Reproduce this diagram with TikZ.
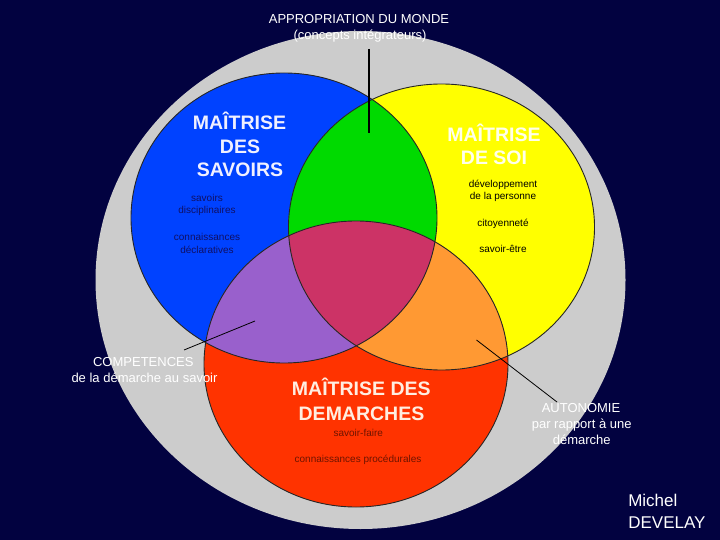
\documentclass[tikz,border=0pt]{standalone}
\usepackage{fontspec}
\setmainfont{Liberation Sans}
\definecolor{cnavy}{RGB}{2,2,64}
\definecolor{cgrey}{RGB}{204,204,204}
\definecolor{cblue}{RGB}{0,66,255}
\definecolor{cyellow}{RGB}{255,255,0}
\definecolor{cgreen}{RGB}{0,218,0}
\definecolor{cred}{RGB}{255,51,0}
\definecolor{cpurple}{RGB}{153,96,204}
\definecolor{cmag}{RGB}{204,51,102}
\definecolor{corange}{RGB}{255,153,51}
\definecolor{tblue}{RGB}{16,16,100}
\definecolor{tred}{RGB}{110,20,0}
\definecolor{wyel}{RGB}{255,255,235}
\definecolor{wred}{RGB}{255,238,225}
\definecolor{wblue}{RGB}{240,240,255}
\begin{document}
\begin{tikzpicture}[x=1pt,y=-1pt,
  txt/.style={anchor=base,inner sep=0pt,outer sep=0pt},
  wlabel/.style={txt,text=white,font=\fontsize{13}{15}\selectfont},
  title/.style={txt,font=\fontsize{19.5}{22}\selectfont\bfseries},
  small/.style={txt,font=\fontsize{10}{12}\selectfont},
  outline/.style={draw=black!85,line width=0.9pt},
  pointer/.style={draw=black,line width=0.8pt}]
\useasboundingbox (0,0) rectangle (720,540);
\fill[cnavy] (0,0) rectangle (720,540);
\coordinate (G) at (360.5,280);
\coordinate (B) at (284,218);
\coordinate (Y) at (441.5,227);
\coordinate (R) at (356,364);
% outer disc
\fill[cgrey] (G) ellipse [x radius=265pt, y radius=249pt];
% three sets
\fill[cblue] (B) ellipse [x radius=153pt, y radius=145pt];
\fill[cyellow] (Y) ellipse [x radius=153pt, y radius=143pt];
\fill[cred] (R) ellipse [x radius=152pt, y radius=143pt];
\begin{scope}
  \clip (B) ellipse [x radius=153pt, y radius=145pt];
  \fill[cgreen] (Y) ellipse [x radius=153pt, y radius=143pt];
\end{scope}
\begin{scope}
  \clip (B) ellipse [x radius=153pt, y radius=145pt];
  \fill[cpurple] (R) ellipse [x radius=152pt, y radius=143pt];
\end{scope}
\begin{scope}
  \clip (Y) ellipse [x radius=153pt, y radius=143pt];
  \fill[corange] (R) ellipse [x radius=152pt, y radius=143pt];
\end{scope}
\begin{scope}
  \clip (B) ellipse [x radius=153pt, y radius=145pt];
  \clip (Y) ellipse [x radius=153pt, y radius=143pt];
  \fill[cmag] (R) ellipse [x radius=152pt, y radius=143pt];
\end{scope}
\draw[outline] (B) ellipse [x radius=153pt, y radius=145pt];
\draw[outline] (Y) ellipse [x radius=153pt, y radius=143pt];
\draw[outline] (R) ellipse [x radius=152pt, y radius=143pt];
% pointer lines
\coordinate (ap1) at (369,49);
\coordinate (ap2) at (369,133);
\draw[draw=black,line width=1.8pt] (ap1) -- (ap2);
\coordinate (co1) at (184,350);
\coordinate (co2) at (255,321);
\draw[pointer] (co1) -- (co2);
\coordinate (au1) at (476.5,340);
\coordinate (au2) at (557,402);
\draw[pointer] (au1) -- (au2);
% top label
\node[wlabel] (appro1) at (359,24) {APPROPRIATION DU MONDE};
\node[wlabel] (appro2) at (360,39.5) {(concepts intégrateurs)};
% blue set
\node[title,text=wblue] (bt1) at (239.5,130) {MAÎTRISE};
\node[title,text=wblue] (bt2) at (240,153.5) {DES};
\node[title,text=wblue] (bt3) at (240,177) {SAVOIRS};
\node[small,text=tblue] (bs1) at (207,202) {savoirs};
\node[small,text=tblue] (bs2) at (207,213.5) {disciplinaires};
\node[small,text=tblue] (bs3) at (207,240.5) {connaissances};
\node[small,text=tblue] (bs4) at (207,253.5) {déclaratives};
% yellow set
\node[title,text=wyel] (yt1) at (494,141.5) {MAÎTRISE};
\node[title,text=wyel] (yt2) at (494,165) {DE SOI};
\node[small,text=black] (ys1) at (503,187.5) {développement};
\node[small,text=black] (ys2) at (503,200) {de la personne};
\node[small,text=black] (ys3) at (503,226) {citoyenneté};
\node[small,text=black] (ys4) at (503,252.5) {savoir-être};
% red set
\node[title,text=wred] (rt1) at (361.3,395) {MAÎTRISE DES};
\node[title,text=wred] (rt2) at (361.5,420) {DEMARCHES};
\node[small,text=tred] (rs1) at (358.3,436) {savoir-faire};
\node[small,text=tred] (rs2) at (358,462.7) {connaissances procédurales};
% side labels
\node[wlabel] (cp1) at (143.3,366.7) {COMPETENCES};
\node[wlabel] (cp2) at (144.5,382.3) {de la démarche au savoir};
\node[wlabel] (au1t) at (581,412.3) {AUTONOMIE};
\node[wlabel] (au2t) at (581.7,428.7) {par rapport à une};
\node[wlabel] (au3t) at (581.7,444.3) {démarche};
% author
\node[txt,anchor=base west,text=white,font=\fontsize{17}{20}\selectfont] (mi1) at (628.3,506.7) {Michel};
\node[txt,anchor=base west,text=white,font=\fontsize{17}{20}\selectfont] (mi2) at (628.3,528.3) {DEVELAY};
\end{tikzpicture}
\end{document}
